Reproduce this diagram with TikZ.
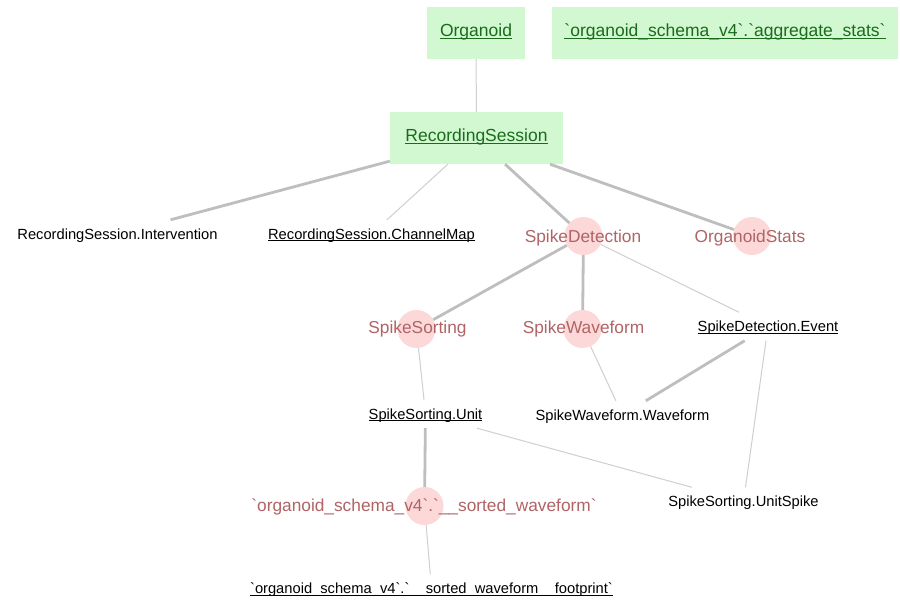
\documentclass[tikz,border=0pt]{standalone}
\usepackage{fontspec}
\setmainfont{Liberation Sans}[Ligatures=TeXOff]
\definecolor{gfill}{HTML}{D2F8D2}
\definecolor{gtext}{HTML}{1A6B1A}
\definecolor{rfill}{HTML}{FCD8D8}
\definecolor{rtext}{HTML}{B06466}
\definecolor{ethick}{HTML}{BEBEBE}
\definecolor{ethin}{HTML}{CFCFCF}
\newcommand{\ulg}[1]{\setbox0=\hbox{#1}\rlap{\copy0}\rule[-2.3pt]{\wd0}{1.2pt}}
\newcommand{\ulb}[1]{\setbox0=\hbox{#1}\rlap{\copy0}\rule[-2.1pt]{\wd0}{1pt}}
\begin{document}
\begin{tikzpicture}[x=1pt,y=-1pt,
  gbox/.style={rectangle, fill=gfill, text=gtext, minimum height=52pt, inner sep=0pt,
    font=\fontsize{17.5}{21}\selectfont, text height=12.6pt, text depth=5.6pt},
  cnode/.style={circle, fill=rfill, minimum size=38pt, inner sep=0pt},
  clabel/.style={text=rtext, font=\fontsize{17.3}{21}\selectfont, inner sep=0pt,
    text height=12.4pt, text depth=0pt},
  ptext/.style={text=black, font=\fontsize{14.7}{18}\selectfont, inner xsep=3pt,
    inner ysep=0pt, minimum height=28pt, text height=10.5pt, text depth=0pt},
  fkthick/.style={draw=ethick, line width=2.8pt},
  fkthin/.style={draw=ethin, line width=1pt}]
\useasboundingbox[fill=white] (0,0) rectangle (900,608);
% tables (boxes)
\node[gbox, minimum width=98pt] (org) at (476,33) {\ulg{Organoid}};
\node[gbox, minimum width=346pt] (agg) at (725,33) {\ulg{`organoid\_schema\_v4`.`aggregate\_stats`}};
\node[gbox, minimum width=173pt] (rs) at (476.5,138) {\ulg{RecordingSession}};
% computed tables (circles)
\node[cnode] (sd) at (583.5,236) {};
\node[cnode] (os) at (752,236) {};
\node[cnode] (ss) at (416.5,329) {};
\node[cnode] (sw) at (582.5,329) {};
\node[cnode] (sorted) at (424.5,506) {};
% part tables (plain text)
\node[ptext] (intv) at (117.5,234) {RecordingSession.Intervention};
\node[ptext] (chmap) at (371.5,234) {\ulb{RecordingSession.ChannelMap}};
\node[ptext] (event) at (768,326.5) {\ulb{SpikeDetection.Event}};
\node[ptext] (unit) at (425.5,414) {\ulb{SpikeSorting.Unit}};
\node[ptext] (wave) at (622.5,415) {SpikeWaveform.Waveform};
\node[ptext] (uspike) at (743.5,501.5) {SpikeSorting.UnitSpike};
\node[ptext] (foot) at (431.5,588.5) {\ulb{`organoid\_schema\_v4`.`\_\_sorted\_waveform\_\_footprint`}};
% connectors
\draw[fkthin] (org) -- (rs);
\draw[fkthick] (rs) -- (intv);
\draw[fkthin] (rs) -- (chmap);
\draw[fkthick] (rs) -- (sd);
\draw[fkthick] (rs) -- (os);
\draw[fkthick] (sd) -- (ss);
\draw[fkthick] (sd) -- (sw);
\draw[fkthin] (sd) -- (event);
\draw[fkthin] (ss) -- (unit);
\draw[fkthin] (sw) -- (wave);
\draw[fkthick] (event) -- (wave);
\draw[fkthin] (event) -- (uspike);
\draw[fkthin] (unit) -- (uspike);
\draw[fkthick] (unit) -- (sorted);
\draw[fkthin] (sorted) -- (foot);
% labels of computed tables
\node[clabel] (sdl) at (583,236) {SpikeDetection};
\node[clabel] (osl) at (750,236) {OrganoidStats};
\node[clabel] (ssl) at (417.5,327.5) {SpikeSorting};
\node[clabel] (swl) at (583.5,327.5) {SpikeWaveform};
\node[clabel] (sortedl) at (424,505) {`organoid\_schema\_v4`.`\_\_sorted\_waveform`};
\end{tikzpicture}
\end{document}
